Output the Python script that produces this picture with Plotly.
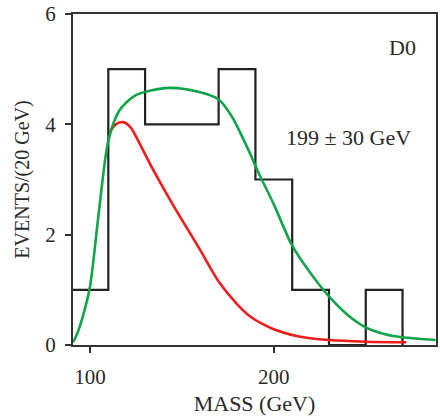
import plotly.graph_objects as go

# Histogram (20 GeV bins)
bin_edges = [90, 110, 130, 150, 170, 190, 210, 230, 250, 270]
counts = [1, 5, 4, 4, 5, 3, 1, 0, 1]

# Green curve (signal + background fit)
green_x = [90.8, 93, 96, 100, 105, 110, 116, 125, 143, 160, 170, 177, 186, 192, 200, 210, 220, 230, 240, 250, 260, 270, 288]
green_y = [0.05, 0.2, 0.5, 1.05, 2.45, 3.7, 4.25, 4.53, 4.66, 4.58, 4.45, 4.15, 3.55, 3.1, 2.55, 1.8, 1.3, 0.88, 0.55, 0.32, 0.2, 0.14, 0.09]

# Red curve (background)
red_x = [110.8, 114, 118, 122, 126, 134, 145, 160, 170, 180, 187, 199, 213, 230, 250, 272]
red_y = [3.86, 4.0, 4.04, 3.95, 3.72, 3.2, 2.55, 1.72, 1.15, 0.74, 0.52, 0.3, 0.16, 0.09, 0.06, 0.05]

x_ticks = [100, 200]
y_ticks = [0, 2, 4, 6]

hist_x = bin_edges
hist_y = counts + [0]

fig = go.Figure()
fig.add_trace(go.Scatter(x=hist_x, y=hist_y, mode="lines", line=dict(shape="hv", color="#222222", width=2.2), hoverinfo="skip"))
fig.add_trace(go.Scatter(x=red_x, y=red_y, mode="lines", line=dict(shape="spline", smoothing=0.8, color="#ee1c1c", width=2.6), hoverinfo="skip"))
fig.add_trace(go.Scatter(x=green_x, y=green_y, mode="lines", line=dict(shape="spline", smoothing=0.8, color="#10a54a", width=2.6), hoverinfo="skip"))

font_family = "Liberation Serif, DejaVu Serif, serif"

fig.update_layout(
    width=440, height=419,
    margin=dict(l=73, r=2, t=14, b=74),
    paper_bgcolor="white", plot_bgcolor="white",
    showlegend=False,
    font=dict(family=font_family, size=22, color="#2a2a2a"),
    xaxis=dict(range=[90.8, 288.2], tickvals=x_ticks, ticks="outside", ticklen=6, tickwidth=2,
               tickcolor="#333333", showline=True, linecolor="#333333", linewidth=2, mirror=True,
               showgrid=False, zeroline=False, ticklabelstandoff=6,
               title=dict(text="MASS (GeV)", standoff=7, font=dict(size=22)),
               tickfont=dict(size=21)),
    yaxis=dict(range=[0, 6], tickvals=y_ticks, ticks="outside", ticklen=6, tickwidth=2,
               tickcolor="#333333", showline=True, linecolor="#333333", linewidth=2, mirror=True,
               showgrid=False, zeroline=False, ticklabelstandoff=5,
               title=dict(text="EVENTS/(20 GeV)", standoff=10, font=dict(size=20)),
               tickfont=dict(size=21)),
)
fig.add_annotation(x=0.951, y=0.900, xref="paper", yref="paper", text="D0", showarrow=False,
                   xanchor="right", yanchor="middle", font=dict(size=22))
fig.add_annotation(x=0.937, y=0.628, xref="paper", yref="paper", text="199 ± 30 GeV", showarrow=False,
                   xanchor="right", yanchor="middle", font=dict(size=22))

fig.write_html("out.html")
